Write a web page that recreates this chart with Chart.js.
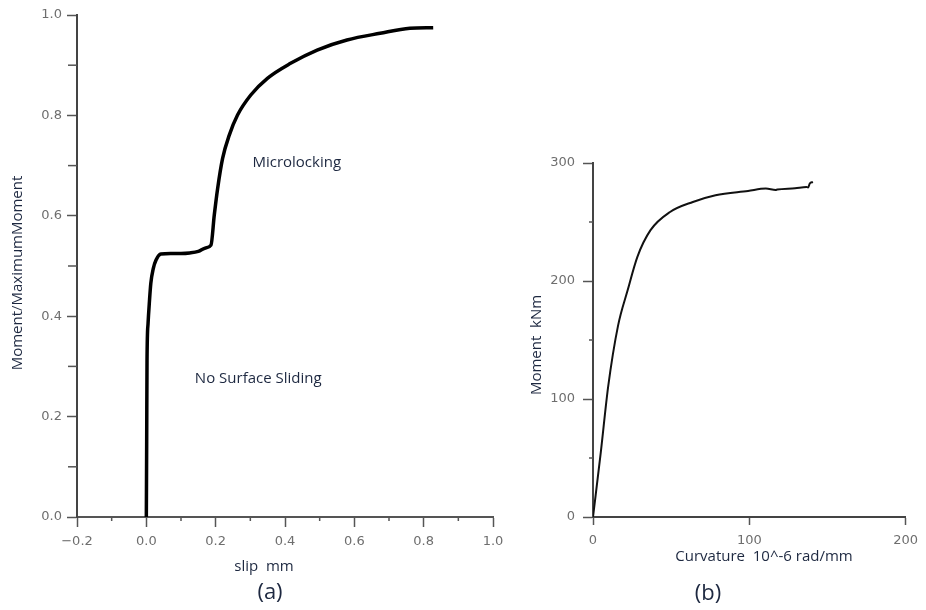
<!DOCTYPE html>
<html>
<head>
<meta charset="utf-8">
<script src="https://cdn.jsdelivr.net/npm/chart.js@4/dist/chart.umd.min.js"></script>
<style>
  html, body { margin:0; padding:0; background:#fff; }
  #wrapA { position:absolute; left:0; top:0; width:520px; height:610px; }
  #wrapB { position:absolute; left:520px; top:0; width:406px; height:610px; }
</style>
</head>
<body>
<div id="wrapA"><canvas id="chartA" width="520" height="610"></canvas></div>
<div id="wrapB"><canvas id="chartB" width="406" height="610"></canvas></div>
<script>
'use strict'
// (a) moment ratio vs slip
let slipX = [0, 0.001, 0.002, 0.005, 0.009, 0.013, 0.02, 0.028, 0.042, 0.07, 0.1, 0.125, 0.15, 0.171, 0.1865,
  0.196, 0.2057, 0.22, 0.2393, 0.2631, 0.3013, 0.3492, 0.4161, 0.4927, 0.5788, 0.6743, 0.7604, 0.8275];
let momentRatio = [0, 0.15, 0.312, 0.386, 0.43, 0.466, 0.495, 0.512, 0.524, 0.525, 0.525, 0.526, 0.529, 0.536, 0.5416,
  0.6015, 0.6546, 0.7144, 0.7608, 0.8007, 0.8406, 0.8738, 0.9037, 0.9302, 0.9502, 0.9635, 0.9735, 0.9747];
let notesA = ['Microlocking', 'No Surface Sliding'];
let notesAX = [0.306, 0.14];
let notesAY = [0.705, 0.276];

// (b) moment vs curvature
let curvature = [0, 5, 9.7, 16.0, 22.2, 28.4, 36.8, 49.3, 63.9, 78.4, 99.2, 110.6, 116.9, 117.9, 129.3, 136.6, 137.6, 138.7, 140.7];
let momentKNm = [0, 55, 110.5, 162, 192.3, 220.5, 243.1, 258.5, 267.0, 272.7, 276.3, 278.3, 277.2, 277.5, 278.6, 279.7, 279.2, 282.6, 283.9];

let tickFont = { family: 'DejaVu Sans', size: 13 };
let tickGray = '#6e6e6e';
let labelFont = '15px "Open Sans"';
let labelColor = '#1d2840';

function pts(xs, ys){
  let out = [];
  for (let i = 0; i < xs.length; i++) out.push({ x: xs[i], y: ys[i] });
  return out;
}

// minor ticks and free text, drawn with the chart's own scales
let extrasPlugin = {
  id: 'extras',
  afterDraw(chart, args, opts){
    let ctx = chart.ctx;
    ctx.save();
    (opts.minor || []).forEach(m => {
      let sc = chart.scales[m.axis];
      ctx.strokeStyle = m.color; ctx.lineWidth = m.width;
      for (let v = m.from; v <= m.to + 1e-9; v += m.step){
        let p = sc.getPixelForValue(v);
        ctx.beginPath();
        if (m.axis === 'x'){ ctx.moveTo(p, chart.chartArea.bottom); ctx.lineTo(p, chart.chartArea.bottom + m.len); }
        else { ctx.moveTo(chart.chartArea.left, p); ctx.lineTo(chart.chartArea.left - m.len, p); }
        ctx.stroke();
      }
    });
    (opts.notes || []).forEach(n => {
      ctx.font = labelFont; ctx.fillStyle = labelColor;
      ctx.textAlign = 'left'; ctx.textBaseline = 'middle';
      ctx.fillText(n.text, chart.scales.x.getPixelForValue(n.x), chart.scales.y.getPixelForValue(n.y));
    });
    (opts.texts || []).forEach(t => {
      ctx.save();
      ctx.font = t.font || labelFont; ctx.fillStyle = labelColor;
      ctx.textAlign = 'center'; ctx.textBaseline = 'middle';
      ctx.translate(t.x, t.y);
      if (t.rot) ctx.rotate(t.rot);
      ctx.fillText(t.text, 0, 0);
      ctx.restore();
    });
    ctx.restore();
  }
};

function axisGrid(len){
  return { display: true, drawOnChartArea: false, drawTicks: true, tickLength: len, tickColor: '#555', tickWidth: 1.5 };
}

new Chart(document.getElementById('chartA'), {
  type: 'line',
  data: { datasets: [{ data: pts(slipX, momentRatio), borderColor: '#000', borderWidth: 3.5,
    pointRadius: 0, cubicInterpolationMode: 'monotone', fill: false }] },
  options: {
    responsive: false, animation: false,
    layout: { padding: { top: 15, right: 27, left: 0, bottom: 0 } },
    plugins: {
      legend: { display: false }, tooltip: { enabled: false },
      extras: {
        minor: [
          { axis: 'x', from: -0.1, to: 0.9, step: 0.2, len: 4, color: '#555', width: 1.5 },
          { axis: 'y', from: 0.1, to: 0.9, step: 0.2, len: 9, color: '#555', width: 1.5 }
        ],
        notes: notesA.map((t, i) => ({ text: t, x: notesAX[i], y: notesAY[i] })),
        texts: [
          { text: 'Moment/MaximumMoment', x: 18, y: 273, rot: -Math.PI / 2 },
          { text: 'slip  mm', x: 264, y: 567 },
          { text: '(a)', x: 270, y: 593, font: '22px "Open Sans"' }
        ]
      }
    },
    scales: {
      x: {
        type: 'linear', min: -0.2, max: 1.0,
        ticks: { stepSize: 0.2, color: tickGray, font: tickFont, padding: 7,
          callback: v => (Math.abs(v) < 1e-9 ? 0 : v).toFixed(1).replace('-', '\u2212') },
        grid: axisGrid(10),
        border: { display: true, color: '#555', width: 2 },
        afterFit: s => { s.height = 93; }
      },
      y: {
        type: 'linear', min: 0, max: 1.0,
        ticks: { stepSize: 0.2, color: tickGray, font: tickFont, padding: 5,
          callback: v => v.toFixed(1) },
        grid: axisGrid(10),
        border: { display: true, color: '#444', width: 2 },
        afterFit: s => { s.width = 77; }
      }
    }
  },
  plugins: [extrasPlugin]
});

new Chart(document.getElementById('chartB'), {
  type: 'line',
  data: { datasets: [{ data: pts(curvature, momentKNm), borderColor: '#111', borderWidth: 2,
    pointRadius: 0, cubicInterpolationMode: 'monotone', fill: false }] },
  options: {
    responsive: false, animation: false,
    layout: { padding: { top: 163, right: 13, left: 0, bottom: 0 } },
    plugins: {
      legend: { display: false }, tooltip: { enabled: false },
      extras: {
        minor: [
          { axis: 'y', from: 50, to: 250, step: 100, len: 4, color: '#555', width: 1.5 }
        ],
        texts: [
          { text: 'Moment  kNm', x: 17, y: 345, rot: -Math.PI / 2 },
          { text: 'Curvature  10^-6 rad/mm', x: 244, y: 557 },
          { text: '(b)', x: 188, y: 594, font: '22px "Open Sans"' }
        ]
      }
    },
    scales: {
      x: {
        type: 'linear', min: 0, max: 200,
        ticks: { stepSize: 100, color: tickGray, font: tickFont, padding: 8 },
        grid: axisGrid(8),
        border: { display: true, color: '#444', width: 2 },
        afterFit: s => { s.height = 93; }
      },
      y: {
        type: 'linear', min: 0, max: 300,
        ticks: { stepSize: 100, color: tickGray, font: tickFont, padding: 8 },
        grid: axisGrid(10),
        border: { display: true, color: '#444', width: 2 },
        afterFit: s => { s.width = 73; }
      }
    }
  },
  plugins: [extrasPlugin]
});
</script>
</body>
</html>
